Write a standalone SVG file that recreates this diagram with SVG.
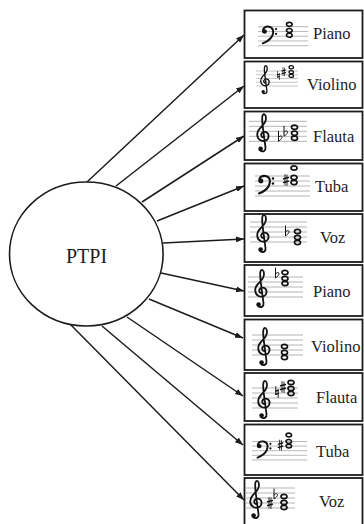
<svg xmlns="http://www.w3.org/2000/svg" xmlns:xlink="http://www.w3.org/1999/xlink" width="364" height="524" viewBox="0 0 364 524">
  <style>
    .box { fill: #fff; stroke: #1c1c1c; stroke-width: 1.8; }
    .lbl { font-family: "Liberation Serif", "Times New Roman", serif; font-size: 16.5px; fill: #1e1e1e; }
    .hub { fill: #fff; stroke: #1c1c1c; stroke-width: 1.6; }
    .hubtxt { font-family: "Liberation Serif", "Times New Roman", serif; font-size: 20px; fill: #1e1e1e; text-anchor: middle; }
    .link { stroke: #1c1c1c; stroke-width: 1.5; fill: none; marker-end: url(#head); }
    .st { stroke: #ababab; stroke-width: 0.9; fill: none; }
    .ink { stroke: #121212; fill: none; stroke-linecap: round; }
    .dot { fill: #121212; }
    .wn { fill: none; stroke: #121212; stroke-width: 1.7; }
  </style>
  <defs>
    <marker id="head" viewBox="0 0 8 6" refX="8" refY="3" markerWidth="8" markerHeight="6" markerUnits="userSpaceOnUse" orient="auto">
      <path d="M0,0 L8,3 L0,6 Z" fill="#1c1c1c"/>
    </marker>
    <!-- staff-space units: lines at y = 0, 5, 10, 15, 20 -->
    <g id="treble">
      <path class="ink" stroke-width="1.8" d="M9,16 C6.5,16.5 5,13 7.5,11.3 C10.5,9.5 14,11.5 13.5,15.5 C13,19.5 8.5,20.5 5.5,19 C1.5,17 1,11 5,7 C8,4 11,1.5 11,-3 C11,-7 8.5,-8.5 7.5,-5.5 C6.5,-2.5 7.5,3 8.5,11 L10.5,26 C11,29.5 8,31 5.5,29.5"/>
      <circle class="dot" cx="5.6" cy="27.6" r="2.3"/>
    </g>
    <g id="bass">
      <path class="ink" stroke-width="2.1" d="M1.5,5.5 C0.5,1 4.5,-0.5 7.5,0 C12,0.8 13,5 11,9.5 C9,13.5 5,16 1,17.5"/>
      <circle class="dot" cx="3" cy="5" r="2.4"/>
      <circle class="dot" cx="15" cy="2.5" r="1.2"/>
      <circle class="dot" cx="15" cy="7.5" r="1.2"/>
    </g>
    <g id="sharp">
      <path class="ink" stroke-width="0.9" d="M-1,-5.5 V5 M1,-5 V5.5"/>
      <path class="ink" stroke-width="1.5" stroke-linecap="butt" d="M-2.4,-1.2 L2.4,-2.4 M-2.4,2.4 L2.4,1.2"/>
    </g>
    <g id="flat">
      <path class="ink" stroke-width="1" d="M-1.5,-7 V3 C0.5,1.5 2.8,-0.5 1.8,-2 C1,-3 -0.5,-2 -1.5,-1"/>
    </g>
    <g id="natural">
      <path class="ink" stroke-width="0.9" d="M-1.2,-5.5 V2.2 M1.2,5.5 V-2.2"/>
      <path class="ink" stroke-width="1.5" stroke-linecap="butt" d="M-1.2,-1 L1.2,-1.8 M-1.2,2.2 L1.2,1.4"/>
    </g>
    <ellipse id="wn" class="wn" rx="3" ry="2.1"/>
  </defs>

  <!-- connectors from the hub to each instrument -->
  <g id="connectors">
    <line class="link" x1="87" y1="182" x2="244" y2="35"/>
    <line class="link" x1="116" y1="186" x2="244" y2="86"/>
    <line class="link" x1="142" y1="202" x2="244" y2="136"/>
    <line class="link" x1="157" y1="221" x2="244" y2="186"/>
    <line class="link" x1="163" y1="243" x2="244" y2="239"/>
    <line class="link" x1="161" y1="273" x2="244" y2="291"/>
    <line class="link" x1="149" y1="299" x2="243" y2="338"/>
    <line class="link" x1="127" y1="317" x2="243" y2="396"/>
    <line class="link" x1="102" y1="326" x2="243" y2="445"/>
    <line class="link" x1="70" y1="324" x2="244" y2="500"/>
  </g>

  <g id="ptpi">
    <ellipse class="hub" cx="86.3" cy="254" rx="76.8" ry="72"/>
    <text class="hubtxt" x="86.5" y="263">PTPI</text>
  </g>

  <g id="piano-1">
    <rect class="box" x="244.5" y="10.5" width="118" height="47.5"/>
    <g transform="translate(258,26.7) scale(0.95)">
      <path class="st" d="M0,0h53M0,5h53M0,10h53M0,15h53M0,20h53"/>
      <use xlink:href="#bass" x="4"/>
      <use xlink:href="#wn" x="33" y="-2.5"/>
      <use xlink:href="#wn" x="33" y="4"/>
      <use xlink:href="#wn" x="33" y="9"/>
    </g>
    <text class="lbl" x="313" y="39">Piano</text>
  </g>

  <g id="violino-1">
    <rect class="box" x="244.5" y="61.5" width="118" height="46.5"/>
    <g transform="translate(256,71) scale(0.75)">
      <path class="st" d="M0,0h56M0,5h56M0,10h56M0,15h56M0,20h56"/>
      <use xlink:href="#treble" x="4"/>
      <use xlink:href="#natural" x="30" y="6"/>
      <use xlink:href="#sharp" x="37" y="1"/>
      <use xlink:href="#wn" x="47" y="-5"/>
      <use xlink:href="#wn" x="47" y="1.5"/>
      <use xlink:href="#wn" x="47" y="6.5"/>
    </g>
    <text class="lbl" x="307" y="90">Violino</text>
  </g>

  <g id="flauta-1">
    <rect class="box" x="244.5" y="111.5" width="118" height="48.5"/>
    <g transform="translate(249,121.3)">
      <path class="st" d="M0,0h58M0,5h58M0,10h58M0,15h58M0,20h58"/>
      <use xlink:href="#treble" x="6"/>
      <use xlink:href="#flat" x="31" y="17"/>
      <use xlink:href="#flat" x="36.5" y="12"/>
      <use xlink:href="#wn" x="45.5" y="6"/>
      <use xlink:href="#wn" x="45.5" y="12"/>
      <use xlink:href="#wn" x="45.5" y="17"/>
    </g>
    <text class="lbl" x="313" y="142">Flauta</text>
  </g>

  <g id="tuba-1">
    <rect class="box" x="244.5" y="163.5" width="118" height="47.5"/>
    <g transform="translate(255,176)">
      <path class="st" d="M0,0h55M0,5h55M0,10h55M0,15h55M0,20h55"/>
      <use xlink:href="#bass" x="3"/>
      <use xlink:href="#sharp" x="31" y="4"/>
      <use xlink:href="#wn" x="39" y="-8"/>
      <use xlink:href="#wn" x="39" y="1.5"/>
      <use xlink:href="#wn" x="39" y="6.5"/>
    </g>
    <text class="lbl" x="315" y="192">Tuba</text>
  </g>

  <g id="voz-1">
    <rect class="box" x="244.5" y="214" width="118" height="48"/>
    <g transform="translate(250,222)">
      <path class="st" d="M0,0h57M0,5h57M0,10h57M0,15h57M0,20h57"/>
      <use xlink:href="#treble" x="5"/>
      <use xlink:href="#flat" x="37" y="11"/>
      <use xlink:href="#wn" x="47.5" y="9.5"/>
      <use xlink:href="#wn" x="47.5" y="15.5"/>
      <use xlink:href="#wn" x="47.5" y="20.5"/>
    </g>
    <text class="lbl" x="320" y="243">Voz</text>
  </g>

  <g id="piano-2">
    <rect class="box" x="244.5" y="265" width="118" height="51"/>
    <g transform="translate(248,277)">
      <path class="st" d="M0,0h55M0,5h55M0,10h55M0,15h55M0,20h55"/>
      <use xlink:href="#treble" x="5"/>
      <use xlink:href="#flat" x="29" y="-2"/>
      <use xlink:href="#wn" x="37" y="-4.5"/>
      <use xlink:href="#wn" x="37" y="1.5"/>
      <use xlink:href="#wn" x="37" y="6.5"/>
    </g>
    <text class="lbl" x="313" y="297">Piano</text>
  </g>

  <g id="violino-2">
    <rect class="box" x="244.5" y="319.5" width="118" height="50.5"/>
    <g transform="translate(252,335)">
      <path class="st" d="M0,0h51M0,5h51M0,10h51M0,15h51M0,20h51"/>
      <use xlink:href="#treble" x="4"/>
      <use xlink:href="#wn" x="32.5" y="11.5"/>
      <use xlink:href="#wn" x="32.5" y="17.5"/>
      <use xlink:href="#wn" x="32.5" y="22.5"/>
    </g>
    <text class="lbl" x="311" y="352">Violino</text>
  </g>

  <g id="flauta-2">
    <rect class="box" x="244.5" y="373" width="118" height="48"/>
    <g transform="translate(252,388)">
      <path class="st" d="M0,0h46M0,5h46M0,10h46M0,15h46M0,20h46"/>
      <use xlink:href="#treble" x="4"/>
      <use xlink:href="#natural" x="25" y="4"/>
      <use xlink:href="#sharp" x="31" y="-1"/>
      <use xlink:href="#wn" x="39" y="-5.5"/>
      <use xlink:href="#wn" x="39" y="0.5"/>
      <use xlink:href="#wn" x="39" y="5.5"/>
    </g>
    <text class="lbl" x="316" y="403">Flauta</text>
  </g>

  <g id="tuba-2">
    <rect class="box" x="244.5" y="424.5" width="118" height="50.5"/>
    <g transform="translate(252,441.5) scale(0.92)">
      <path class="st" d="M0,0h60M0,5h60M0,10h60M0,15h60M0,20h60"/>
      <use xlink:href="#bass" x="5"/>
      <use xlink:href="#sharp" x="31" y="4"/>
      <use xlink:href="#wn" x="40" y="-7"/>
      <use xlink:href="#wn" x="40" y="0"/>
      <use xlink:href="#wn" x="40" y="5"/>
    </g>
    <text class="lbl" x="316" y="457">Tuba</text>
  </g>

  <g id="voz-2">
    <rect class="box" x="244.5" y="478" width="118" height="50"/>
    <g transform="translate(245,488)">
      <path class="st" d="M0,0h50M0,5h50M0,10h50M0,15h50M0,20h50"/>
      <use xlink:href="#treble" x="3"/>
      <use xlink:href="#sharp" x="25" y="15"/>
      <use xlink:href="#flat" x="30.5" y="8"/>
      <use xlink:href="#wn" x="39" y="8.5"/>
      <use xlink:href="#wn" x="39" y="14.5"/>
      <use xlink:href="#wn" x="39" y="19.5"/>
    </g>
    <text class="lbl" x="319" y="507">Voz</text>
  </g>
</svg>
